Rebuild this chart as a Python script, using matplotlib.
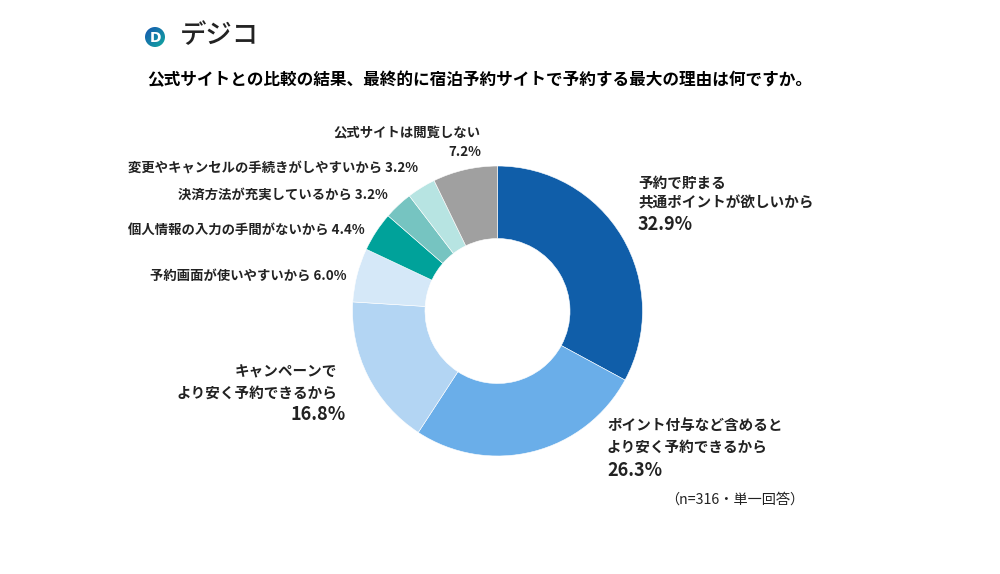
import matplotlib
matplotlib.use("Agg")
import matplotlib.pyplot as plt
import numpy as np
from matplotlib.patches import Circle

plt.rcParams['font.family'] = ['Noto Sans CJK JP', 'DejaVu Sans']

# データ（時計回り、12時の位置から）
labels = ['予約で貯まる\n共通ポイントが欲しいから',
          'ポイント付与など含めると\nより安く予約できるから',
          'キャンペーンで\nより安く予約できるから',
          '予約画面が使いやすいから',
          '個人情報の入力の手間がないから',
          '決済方法が充実しているから',
          '変更やキャンセルの手続きがしやすいから',
          '公式サイトは閲覧しない']
values = [32.9, 26.3, 16.8, 6.0, 4.4, 3.2, 3.2, 7.2]
colors = ['#105ea9', '#6aaee9', '#b3d5f3', '#d5e8f8',
          '#00a29a', '#76c4c1', '#b7e4e2', '#a0a0a0']

title = '公式サイトとの比較の結果、最終的に宿泊予約サイトで予約する最大の理由は何ですか。'
note = '（n=316・単一回答）'

W, H = 1000, 574
fig = plt.figure(figsize=(W / 100, H / 100), dpi=100)


def px(x, y):
    return x / W, 1 - y / H


# ドーナツ
cx, cy, r = 497.5, 311, 145
ax = fig.add_axes([(cx - r) / W, (H - cy - r) / H, 2 * r / W, 2 * r / H])
ax.pie(values, colors=colors, startangle=90, counterclock=False,
       radius=1, wedgeprops=dict(width=0.5, edgecolor='white', linewidth=0.4))
ax.set_xlim(-1, 1)
ax.set_ylim(-1, 1)
ax.set_aspect('equal')
ax.axis('off')

# ロゴ（グラデーションの丸）
logo_ax = fig.add_axes([0, 0, 1, 1], zorder=-1)
logo_ax.set_xlim(0, W)
logo_ax.set_ylim(H, 0)
logo_ax.axis('off')
gx, gy = np.meshgrid(np.linspace(0, 1, 50), np.linspace(0, 1, 50))
grad = (gx + gy) / 2
cmap = matplotlib.colors.LinearSegmentedColormap.from_list('logo', ['#1656b0', '#12a8a0'])
img = logo_ax.imshow(grad, cmap=cmap, extent=(145, 165, 47, 27), origin='upper')
clip = Circle((155, 37), 10, transform=logo_ax.transData)
img.set_clip_path(clip)
logo_ax.text(155.5, 37.5, 'D', color='white', fontsize=10, fontweight='bold',
             ha='center', va='center', family='DejaVu Sans')
logo_ax.set_xlim(0, W)
logo_ax.set_ylim(H, 0)
fig.text(*px(180, 36), 'デジコ', fontsize=19, fontweight='medium', color='#222222',
         va='center', ha='left')

# タイトル
fig.text(*px(480, 80), title, fontsize=12, fontweight='bold', ha='center', va='center')

dark = '#222222'

# 大きいラベル
fig.text(*px(638, 183), labels[0].split('\n')[0], fontsize=10.5, fontweight='bold', color=dark, va='center')
fig.text(*px(638, 202), labels[0].split('\n')[1], fontsize=10.5, fontweight='bold', color=dark, va='center')
fig.text(*px(638, 225), f'{values[0]}%', fontsize=13, fontweight='bold', color=dark, va='center')

fig.text(*px(607, 425), labels[1].split('\n')[0], fontsize=10.5, fontweight='bold', color=dark, va='center')
fig.text(*px(607, 447), labels[1].split('\n')[1], fontsize=10.5, fontweight='bold', color=dark, va='center')
fig.text(*px(607, 470), f'{values[1]}%', fontsize=13, fontweight='bold', color=dark, va='center')

fig.text(*px(337, 371), labels[2].split('\n')[0], fontsize=10.5, fontweight='bold', color=dark, va='center', ha='right')
fig.text(*px(337, 393), labels[2].split('\n')[1], fontsize=10.5, fontweight='bold', color=dark, va='center', ha='right')
fig.text(*px(346, 415), f'{values[2]}%', fontsize=13, fontweight='bold', color=dark, va='center', ha='right')

# 小さいラベル
small = [(3, 347, 276), (4, 365, 230), (5, 388, 195), (6, 418, 168)]
for i, x, y in small:
    fig.text(*px(x, y), f'{labels[i]} {values[i]}%', fontsize=9.6, fontweight='bold',
             color=dark, va='center', ha='right')

fig.text(*px(481, 133), labels[7], fontsize=9.6, fontweight='bold', color=dark, va='center', ha='right')
fig.text(*px(481, 152), f'{values[7]}%', fontsize=9.6, fontweight='bold', color=dark, va='center', ha='right')

fig.text(*px(804, 500), note, fontsize=10.2, color=dark, va='center', ha='right')

fig.savefig('out.png', dpi=100, facecolor='white')
